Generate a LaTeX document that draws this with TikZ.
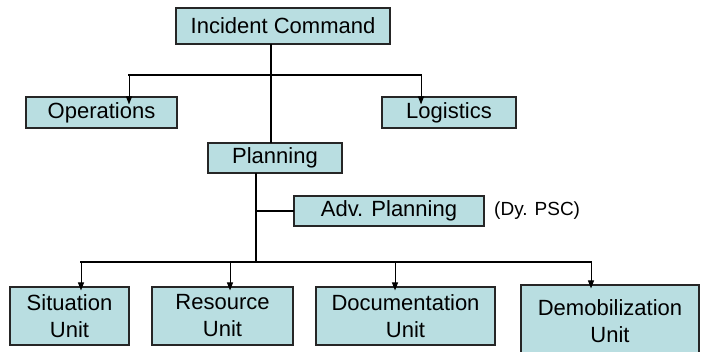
\documentclass[tikz,border=0pt]{standalone}
\usepackage{fontspec}
\setmainfont{Liberation Sans}
\usetikzlibrary{arrows.meta}
\definecolor{boxfill}{RGB}{185,222,225}
\tikzset{
  orgbox/.style={draw=black!85, line width=1.1pt, fill=boxfill, inner sep=0pt, anchor=center,
    font=\fontsize{22}{27}\selectfont, align=center},
  bar/.style={line width=2pt, line cap=rect},
  drop/.style={line width=1pt, -{Triangle[width=6pt,length=8pt]}},
}
\begin{document}
\begin{tikzpicture}[x=1pt,y=-1pt]
\useasboundingbox (0,0) rectangle (701,351);
\node[orgbox, minimum width=214pt, minimum height=36pt] (ic) at (283,26) {Incident Command};
\node[orgbox, minimum width=151pt, minimum height=31pt] (ops) at (101.5,112.5) {Operations};
\node[orgbox, minimum width=134pt, minimum height=31pt] (log) at (449,112.5) {Logistics};
\node[orgbox, minimum width=134pt, minimum height=30pt] (plan) at (275,158) {Planning};
\node[orgbox, minimum width=190pt, minimum height=30pt] (adv) at (389,211) {Adv. Planning};
\node[font=\fontsize{19}{22}\selectfont, anchor=west, inner sep=0pt] (dy) at (494,211) {(Dy. PSC)};
\node[orgbox, minimum width=119pt, minimum height=58pt] (sit) at (69.5,316) {Situation\\Unit};
\node[orgbox, minimum width=141pt, minimum height=58pt] (res) at (222.5,316) {Resource\\Unit};
\node[orgbox, minimum width=179pt, minimum height=58pt] (doc) at (405.5,316) {Documentation\\Unit};
\node[orgbox, minimum width=178pt, minimum height=72pt] (dem) at (610,321) {Demobilization\\Unit};
% top level
\coordinate (icb) at (271,75);
\coordinate (opl) at (129,75);
\coordinate (lgr) at (421,75);
\draw[bar] (ic.south -| icb) -- (plan.north -| icb);
\draw[bar] (opl) -- (lgr);
\draw[drop] (opl) -- ([yshift=-8pt]ops.north -| opl);
\draw[drop] (lgr) -- ([yshift=-8pt]log.north -| lgr);
% planning level
\coordinate (pj) at (256,262);
\coordinate (sl) at (81,262);
\coordinate (rl) at (230,262);
\coordinate (dl) at (395,262);
\coordinate (ml) at (591,262);
\draw[bar] (plan.south -| pj) -- (pj);
\draw[bar] (adv.west -| pj) -- (adv.west);
\draw[bar] (sl) -- (ml);
\draw[drop] (sl) -- ([yshift=-4pt]sit.north -| sl);
\draw[drop] (rl) -- ([yshift=-4pt]res.north -| rl);
\draw[drop] (dl) -- ([yshift=-4pt]doc.north -| dl);
\draw[drop] (ml) -- ([yshift=-4pt]dem.north -| ml);
\end{tikzpicture}
\end{document}
